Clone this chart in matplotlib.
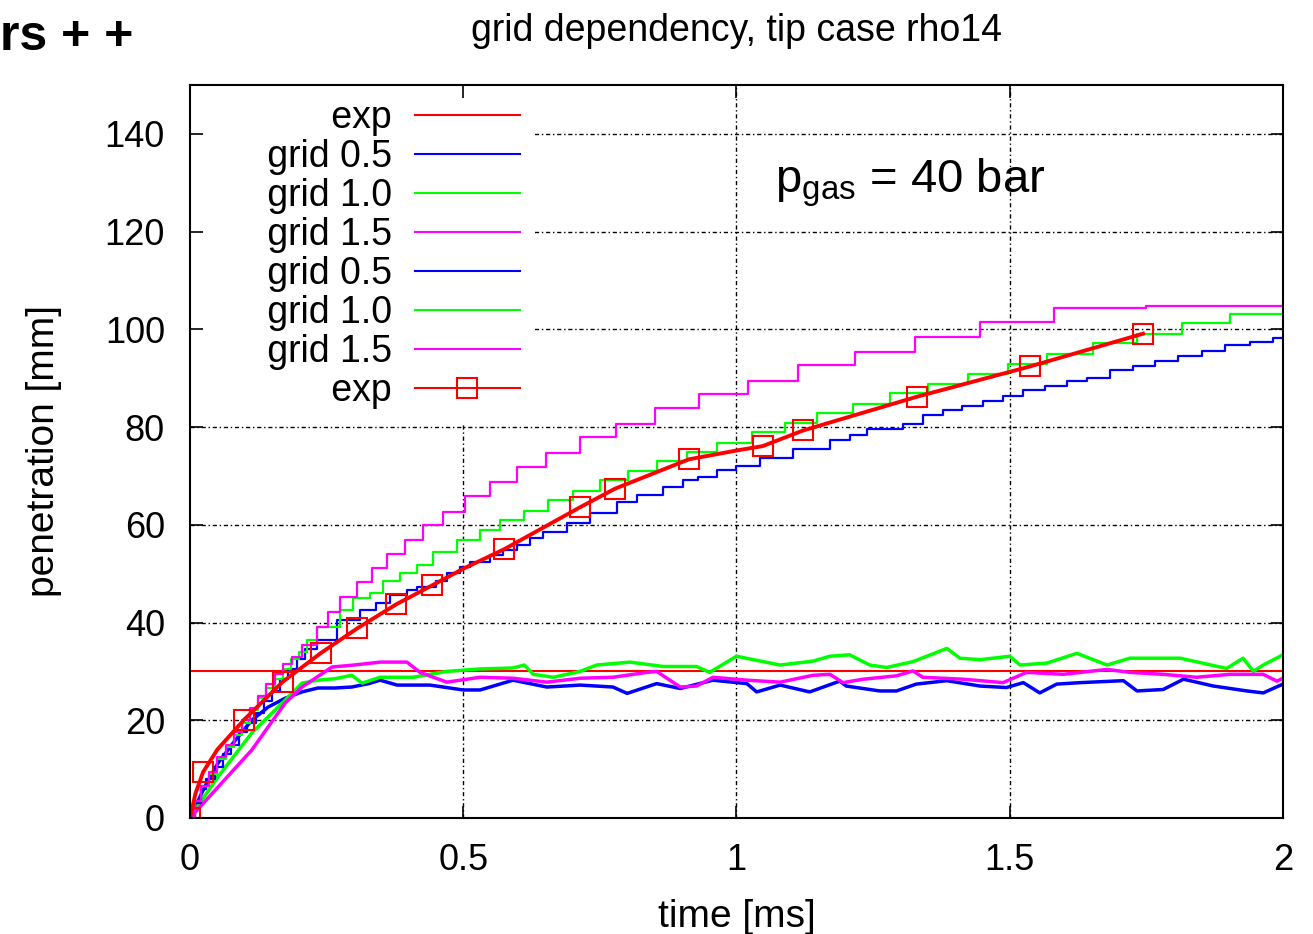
import numpy as np
import matplotlib
matplotlib.use("Agg")
import matplotlib.pyplot as plt

plt.rcParams['font.family'] = ['Liberation Sans', 'DejaVu Sans']
plt.rcParams['mathtext.default'] = 'regular'

# experiment: liquid length (constant) and vapour penetration
exp_liq_t = [0.0, 2.0]
exp_liq_y = [30.0, 30.0]

exp_vap_t = [0.0, 0.01, 0.024, 0.05, 0.099, 0.17, 0.24, 0.306, 0.377, 0.443, 0.5,
             0.575, 0.714, 0.778, 0.913, 1.0, 1.048, 1.122, 1.33, 1.537, 1.744]
exp_vap_y = [0.0, 5.0, 9.4, 14.0, 20.1, 27.9, 33.8, 38.8, 43.7, 47.6, 51.0,
             55.0, 63.6, 67.4, 73.4, 75.2, 76.1, 79.3, 86.2, 92.4, 99.1]
exp_marks = [0, 2, 4, 5, 6, 7, 8, 9, 11, 12, 13, 14, 16, 17, 18, 19, 20]

# liquid penetration, grid 0.5 / 1.0 / 1.5
liq05_t = [0, 0.027, 0.051, 0.08, 0.113, 0.143, 0.174, 0.205, 0.234, 0.265, 0.296,
           0.327, 0.348, 0.379, 0.439, 0.5, 0.531, 0.591, 0.653, 0.714, 0.774, 0.8,
           0.854, 0.897, 0.957, 1.019, 1.037, 1.08, 1.134, 1.189, 1.201, 1.262, 1.293,
           1.329, 1.385, 1.446, 1.494, 1.525, 1.555, 1.586, 1.629, 1.708, 1.733, 1.781,
           1.818, 1.873, 1.934, 1.964, 2.0]
liq05_y = [0, 6.4, 11.2, 15.5, 20.0, 22.7, 24.5, 25.8, 26.6, 26.6, 26.8,
           27.5, 28.2, 27.2, 27.2, 26.2, 26.2, 28.2, 26.8, 27.2, 26.8, 25.5,
           27.5, 26.5, 28.2, 27.5, 25.8, 27.2, 25.8, 28.0, 27.0, 26.0, 26.0,
           27.4, 28.1, 27.0, 26.7, 27.7, 25.6, 27.4, 27.7, 28.1, 26.0, 26.3,
           28.4, 27.0, 26.0, 25.6, 27.4]

liq10_t = [0, 0.009, 0.051, 0.113, 0.143, 0.174, 0.205, 0.234, 0.265, 0.296, 0.315,
           0.348, 0.408, 0.47, 0.531, 0.591, 0.612, 0.628, 0.665, 0.714, 0.744, 0.805,
           0.866, 0.927, 0.951, 1.0, 1.08, 1.14, 1.171, 1.207, 1.244, 1.275, 1.323,
           1.385, 1.409, 1.446, 1.5, 1.519, 1.568, 1.623, 1.678, 1.72, 1.812, 1.897,
           1.927, 1.946, 1.964, 2.0]
liq10_y = [0, 1.6, 8.4, 17.4, 20.7, 24.1, 27.6, 28.2, 28.5, 29.2, 27.6,
           28.8, 28.8, 30.0, 30.5, 30.7, 31.3, 29.4, 28.8, 30.0, 31.3, 31.9,
           31.0, 31.0, 29.8, 33.1, 31.3, 32.1, 33.1, 33.4, 31.3, 30.8, 32.0,
           34.7, 32.7, 32.4, 33.1, 31.3, 31.7, 33.7, 31.3, 32.7, 32.7, 30.6,
           32.7, 30.0, 31.3, 33.4]

liq15_t = [0, 0.051, 0.113, 0.174, 0.205, 0.26, 0.3, 0.348, 0.397, 0.421, 0.47,
           0.531, 0.591, 0.653, 0.714, 0.774, 0.836, 0.854, 0.897, 0.927, 0.957,
           1.019, 1.08, 1.14, 1.171, 1.195, 1.232, 1.293, 1.323, 1.341, 1.415, 1.488,
           1.531, 1.598, 1.678, 1.72, 1.781, 1.842, 1.903, 1.964, 1.989, 2.0]
liq15_y = [0, 6.3, 13.9, 23.5, 26.8, 30.9, 31.3, 31.9, 31.9, 29.8, 27.8,
           28.8, 28.6, 27.8, 28.6, 28.8, 29.8, 30.0, 26.8, 27.0, 28.8,
           28.2, 27.8, 29.2, 29.4, 27.7, 28.4, 29.1, 30.1, 28.8, 28.4, 27.7,
           29.8, 29.4, 30.4, 29.8, 29.4, 28.8, 29.4, 29.4, 28.0, 28.6]

# vapour penetration, grid 0.5 / 1.0 / 1.5 (step levels)
vap05_t = [0, 0.01, 0.02, 0.03, 0.045, 0.06, 0.075, 0.09, 0.105, 0.12, 0.135, 0.15,
           0.165, 0.18, 0.195, 0.21, 0.232, 0.269, 0.311, 0.34, 0.366, 0.397, 0.415,
           0.451, 0.47, 0.494, 0.512, 0.549, 0.573, 0.598, 0.622, 0.646, 0.689, 0.732,
           0.781, 0.818, 0.866, 0.903, 0.93, 0.965, 1.0, 1.043, 1.104, 1.171, 1.208,
           1.239, 1.305, 1.342, 1.378, 1.412, 1.451, 1.488, 1.524, 1.565, 1.604,
           1.641, 1.683, 1.726, 1.766, 1.808, 1.852, 1.894, 1.94, 1.982, 2.0]
vap05_y = [0, 3, 6, 8, 10.5, 13, 15, 17.5, 19.5, 21.5, 24, 26,
           28.5, 30.5, 32.5, 34.5, 36.4, 40.5, 42.5, 43.9, 45.6, 46.6, 47.2,
           48.6, 50.1, 51.3, 52.3, 53.8, 54.8, 55.8, 57.2, 58.5, 60.3, 62.5,
           64.6, 66.0, 67.7, 69.1, 69.8, 71.3, 72.0, 73.6, 75.6, 77.4, 78.3,
           79.7, 80.7, 82.4, 83.4, 84.4, 85.4, 86.4, 87.5, 88.5, 89.5,
           90.1, 91.6, 92.4, 93.6, 94.6, 95.6, 96.7, 97.5, 98.3, 98.5]

vap10_t = [0, 0.01, 0.02, 0.035, 0.05, 0.065, 0.08, 0.095, 0.11, 0.125, 0.14, 0.155,
           0.17, 0.185, 0.2, 0.215, 0.232, 0.274, 0.299, 0.329, 0.354, 0.384, 0.415,
           0.445, 0.488, 0.531, 0.567, 0.611, 0.656, 0.701, 0.75, 0.801, 0.855, 0.909,
           0.965, 1.028, 1.089, 1.147, 1.214, 1.281, 1.351, 1.424, 1.497, 1.568,
           1.652, 1.733, 1.815, 1.903, 2.0]
vap10_y = [0, 3.5, 6.5, 9, 12, 14.5, 17, 19.5, 22, 24.5, 26.5, 28.5,
           30.5, 32.5, 34, 36.5, 39, 42.5, 45, 46, 48.6, 50.1, 51.7,
           54.4, 56.8, 58.9, 60.9, 62.9, 65, 67, 69.1, 71.1, 73, 74.8,
           76.8, 78.9, 80.8, 82.9, 84.8, 86.9, 88.9, 90.9, 93, 95,
           97.1, 99.1, 101.2, 103.2, 103.2]

vap15_t = [0, 0.01, 0.02, 0.035, 0.05, 0.065, 0.08, 0.095, 0.11, 0.125, 0.14, 0.155,
           0.17, 0.187, 0.205, 0.232, 0.253, 0.274, 0.305, 0.333, 0.36, 0.393, 0.426,
           0.463, 0.503, 0.549, 0.598, 0.652, 0.714, 0.779, 0.851, 0.931, 1.021,
           1.113, 1.217, 1.327, 1.446, 1.581, 1.75, 2.0]
vap15_y = [0, 3.5, 6.5, 9.5, 12.5, 15, 17.5, 20, 22.5, 25, 27.5, 29.5,
           31.5, 33, 35.4, 39, 42.1, 45.2, 48.2, 51.1, 54.1, 56.8, 59.9,
           62.7, 65.8, 68.7, 71.9, 74.7, 77.9, 80.7, 83.8, 86.7, 89.5,
           92.6, 95.4, 98.4, 101.4, 104.4, 104.8, 105.2]

xticks = [0, 0.5, 1, 1.5, 2]
xticklabels = ['0', '0.5', '1', '1.5', '2']
yticks = list(range(0, 141, 20))

RED, BLUE, GREEN, MAG = '#ff0000', '#0000ff', '#00ff00', '#ff00ff'
pad = '      '

fig = plt.figure(figsize=(13.13, 9.34), dpi=100)
ax = fig.add_axes([0.1447, 0.1242, 0.8324, 0.7848])

ax.plot(exp_liq_t, exp_liq_y, color=RED, lw=1.5, label=pad + 'exp')
ax.plot(liq05_t, liq05_y, color=BLUE, lw=2.5, label=pad + 'grid 0.5')
ax.plot(liq10_t, liq10_y, color=GREEN, lw=2.5, label=pad + 'grid 1.0')
ax.plot(liq15_t, liq15_y, color=MAG, lw=2.5, label=pad + 'grid 1.5')
ax.plot(vap05_t, vap05_y, color=BLUE, lw=1.6, drawstyle='steps-post', label=pad + 'grid 0.5')
ax.plot(vap10_t, vap10_y, color=GREEN, lw=1.6, drawstyle='steps-post', label=pad + 'grid 1.0')
ax.plot(vap15_t, vap15_y, color=MAG, lw=1.6, drawstyle='steps-post', label=pad + 'grid 1.5')
ax.plot(exp_vap_t, exp_vap_y, color=RED, lw=2.8, marker='s', markersize=14,
        markerfacecolor='none', markeredgecolor=RED, markeredgewidth=1.5,
        markevery=exp_marks, label=pad + 'exp')

ax.set_xlim(0, 2)
ax.set_ylim(0, 150)
ax.set_xticks(xticks)
ax.set_xticklabels(xticklabels)
ax.set_yticks(yticks)
ax.tick_params(direction='in', length=9, width=1.2, top=True, right=True,
               labelsize=26, pad=18)
for s in ax.spines.values():
    s.set_linewidth(1.5)

# gnuplot style grid, kept under the key box
gridstyle = dict(color='black', lw=1.0, linestyle=(0, (3, 2, 1, 2)), zorder=0.5)
ax.vlines(xticks[1:-1], 0, 150, **gridstyle)
ax.hlines(yticks[1:], 0, 2, **gridstyle)

ax.set_xlabel('time [ms]', fontsize=28, labelpad=15)
ax.set_ylabel('penetration [mm]', fontsize=28, labelpad=31)
ax.set_title('grid dependency, tip case rho14', fontsize=27, pad=32)

ax.text(1.07, 130, r'$p_{gas}$ = 40 bar', fontsize=34, va='center')

leg = ax.legend(loc='upper left', bbox_to_anchor=(0, 1), borderaxespad=0,
                markerfirst=False, fontsize=27, handlelength=2.8, handletextpad=0.6,
                labelspacing=0.08, borderpad=0.4, frameon=True, fancybox=False,
                framealpha=1, facecolor='white', edgecolor='none')
leg.set_zorder(1)
for h in leg.get_lines():
    h.set_linewidth(1.5)

fig.text(0.0, 0.9465, 'rs + +', fontsize=36, fontweight='bold', va='baseline')

fig.savefig('out.png', dpi=100)
